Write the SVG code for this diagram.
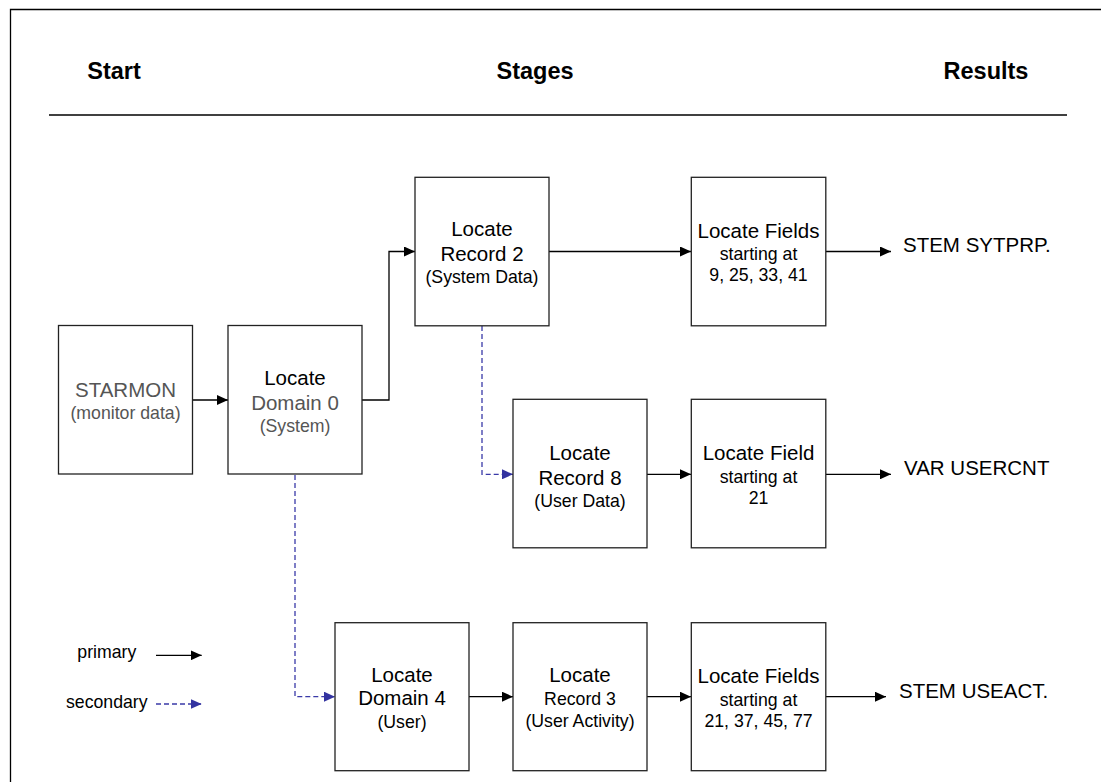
<svg xmlns="http://www.w3.org/2000/svg" width="1101" height="782" viewBox="0 0 1101 782">
<style>
  text { font-family: "Liberation Sans", Arial, sans-serif; fill: #000; }
  .hdr { font-size: 23.5px; font-weight: bold; text-anchor: middle; }
  .lg { font-size: 20.5px; text-anchor: middle; }
  .sm { font-size: 17.7px; text-anchor: middle; }
  .res { font-size: 20.5px; }
  .leg { font-size: 17.7px; }
  .gry { fill: #555; }
  .box { fill: #fff; stroke: #222; stroke-width: 1.3; }
  .pri { fill: none; stroke: #000; stroke-width: 1.3; }
  .sec { fill: none; stroke: #3a3aa8; stroke-width: 1.3; stroke-dasharray: 5 3; }
</style>
<defs>
  <marker id="ah" markerUnits="userSpaceOnUse" markerWidth="11" markerHeight="10" refX="11" refY="5" orient="auto">
    <path d="M0,0 L11,5 L0,10 z" fill="#000"/>
  </marker>
  <marker id="ahb" markerUnits="userSpaceOnUse" markerWidth="11" markerHeight="10" refX="11" refY="5" orient="auto">
    <path d="M0,0 L11,5 L0,10 z" fill="#3333a0"/>
  </marker>
</defs>
<rect width="1101" height="782" fill="#fff"/>
<path d="M10.5,782 V9.5 H1101" fill="none" stroke="#000" stroke-width="1.3"/>
<line x1="49" y1="115" x2="1067" y2="115" stroke="#000" stroke-width="1.3"/>
<g id="headers">
  <text class="hdr" x="114" y="78.5">Start</text>
  <text class="hdr" x="535" y="78.5">Stages</text>
  <text class="hdr" x="986" y="78.5">Results</text>
</g>

<g id="connectors">
  <line class="pri" x1="192.5" y1="400" x2="228" y2="400" marker-end="url(#ah)"/>
  <polyline class="pri" points="362,400 389,400 389,251.5 415,251.5" marker-end="url(#ah)"/>
  <line class="pri" x1="549" y1="251.5" x2="691" y2="251.5" marker-end="url(#ah)"/>
  <line class="pri" x1="826" y1="251.5" x2="891" y2="251.5" marker-end="url(#ah)"/>
  <polyline class="sec" points="482,326 482,474.3 513,474.3" marker-end="url(#ahb)"/>
  <line class="pri" x1="647" y1="474.3" x2="691" y2="474.3" marker-end="url(#ah)"/>
  <line class="pri" x1="826" y1="474.3" x2="891" y2="474.3" marker-end="url(#ah)"/>
  <polyline class="sec" points="295,475 295,696.7 335,696.7" marker-end="url(#ahb)"/>
  <line class="pri" x1="469" y1="696.7" x2="513" y2="696.7" marker-end="url(#ah)"/>
  <line class="pri" x1="647" y1="696.7" x2="691" y2="696.7" marker-end="url(#ah)"/>
  <line class="pri" x1="826" y1="696.7" x2="886" y2="696.7" marker-end="url(#ah)"/>
</g>

<g id="starmon">
  <rect class="box" x="58.5" y="325.5" width="134" height="148.5" stroke="#444"/>
  <text class="lg gry" x="125.5" y="396.7">STARMON</text>
  <text class="sm gry" x="125.5" y="419.3">(monitor data)</text>
</g>
<g id="domain0">
  <rect class="box" x="228" y="325.5" width="134" height="148.5"/>
  <text class="lg" x="295" y="385">Locate</text>
  <text class="lg gry" x="295" y="410">Domain 0</text>
  <text class="sm gry" x="295" y="432">(System)</text>
</g>
<g id="record2">
  <rect class="box" x="415" y="177.3" width="134" height="148.5"/>
  <text class="lg" x="482" y="236">Locate</text>
  <text class="lg" x="482" y="261">Record 2</text>
  <text class="sm" x="482" y="283.3">(System Data)</text>
</g>
<g id="fields1">
  <rect class="box" x="691.3" y="177.3" width="134.5" height="148.5"/>
  <text class="lg" x="758.5" y="237.7">Locate Fields</text>
  <text class="sm" x="758.5" y="260">starting at</text>
  <text class="sm" x="758.5" y="281">9, 25, 33, 41</text>
</g>
<g id="record8">
  <rect class="box" x="513" y="399.3" width="134" height="148.5"/>
  <text class="lg" x="580" y="459.5">Locate</text>
  <text class="lg" x="580" y="484.5">Record 8</text>
  <text class="sm" x="580" y="506.5">(User Data)</text>
</g>
<g id="field2">
  <rect class="box" x="691.3" y="399.3" width="134.5" height="148.5"/>
  <text class="lg" x="758.5" y="460">Locate Field</text>
  <text class="sm" x="758.5" y="483.3">starting at</text>
  <text class="sm" x="758.5" y="504">21</text>
</g>
<g id="domain4">
  <rect class="box" x="335" y="622.7" width="134" height="148"/>
  <text class="lg" x="402" y="681.7">Locate</text>
  <text class="lg" x="402" y="705">Domain 4</text>
  <text class="sm" x="402" y="728.3">(User)</text>
</g>
<g id="record3">
  <rect class="box" x="513" y="622.7" width="134" height="148"/>
  <text class="lg" x="580" y="682">Locate</text>
  <text class="sm" x="580" y="705">Record 3</text>
  <text class="sm" x="580" y="727.3">(User Activity)</text>
</g>
<g id="fields3">
  <rect class="box" x="691.3" y="622.7" width="134.5" height="148"/>
  <text class="lg" x="758.5" y="682.7">Locate Fields</text>
  <text class="sm" x="758.5" y="706">starting at</text>
  <text class="sm" x="758.5" y="727.3">21, 37, 45, 77</text>
</g>

<g id="results">
  <text class="res" x="903" y="252.3">STEM SYTPRP.</text>
  <text class="res" x="904" y="475">VAR USERCNT</text>
  <text class="res" x="899" y="698">STEM USEACT.</text>
</g>

<g id="legend">
  <text class="leg" x="77.3" y="658.3">primary</text>
  <line class="pri" x1="156" y1="655.3" x2="201.7" y2="655.3" marker-end="url(#ah)"/>
  <text class="leg" x="66" y="708.3">secondary</text>
  <line class="sec" x1="156" y1="704" x2="201.7" y2="704" marker-end="url(#ahb)"/>
</g>
</svg>
